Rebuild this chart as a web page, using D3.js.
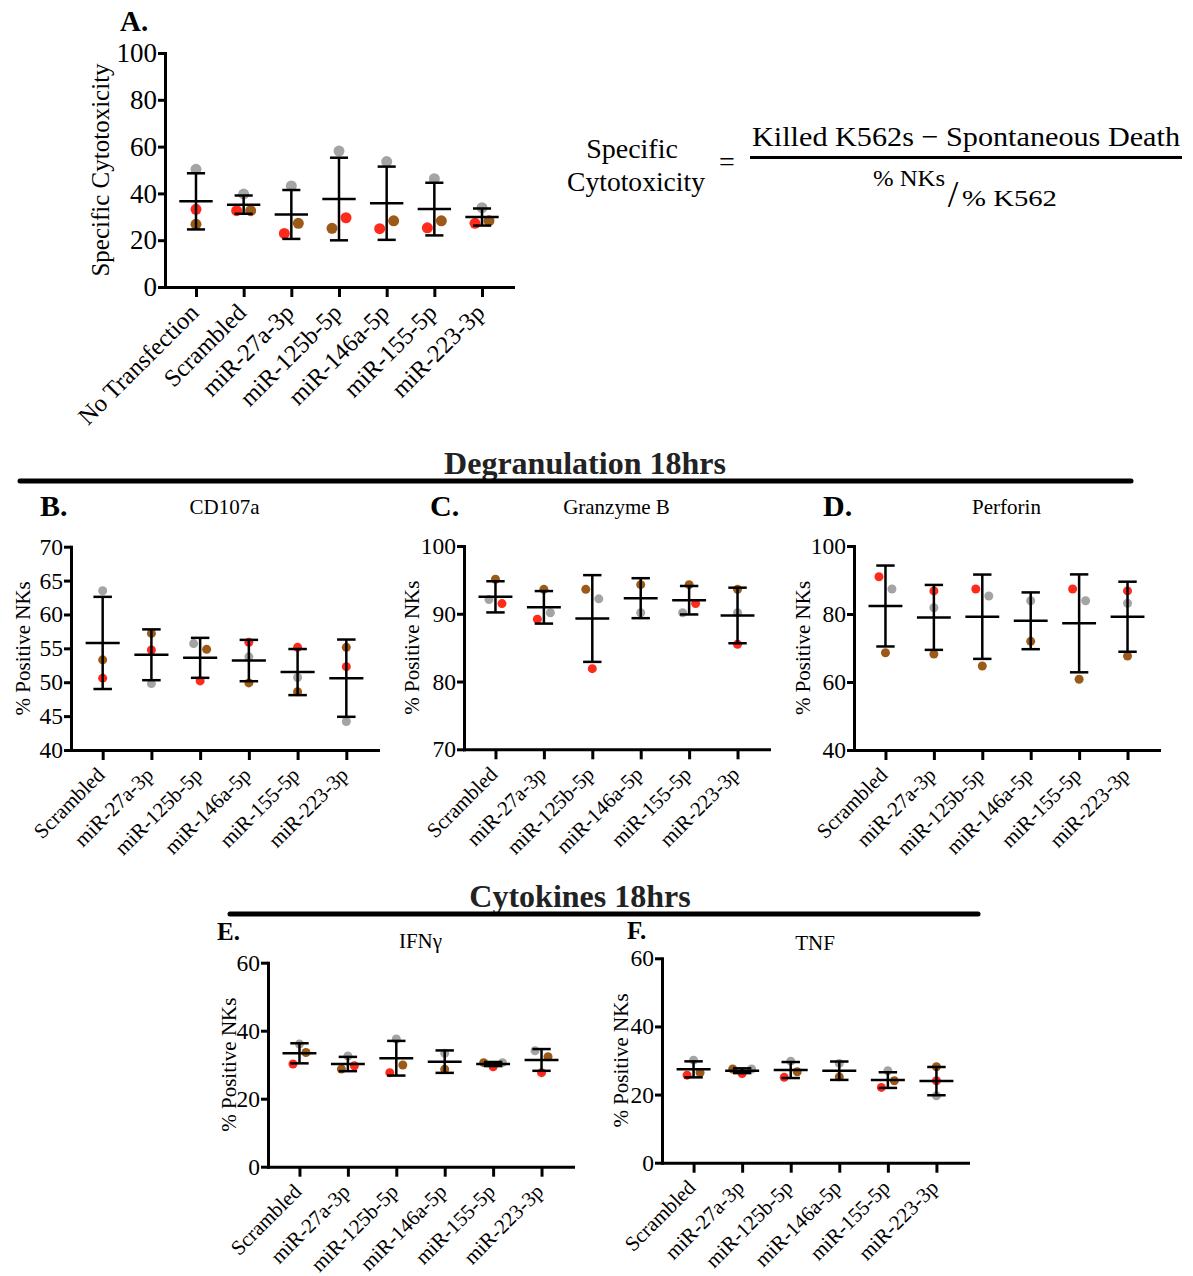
<!DOCTYPE html>
<html>
<head>
<meta charset="utf-8">
<script src="https://cdn.jsdelivr.net/npm/d3@7"></script>
<style>
  body { margin: 0; background: #fff; }
  svg { display: block; font-family: "Liberation Serif", "Times New Roman", serif; }
</style>
</head>
<body>
<svg width="1193" height="1276"></svg>
<script>
let svg = d3.select("svg");

const COL_GRAY = "#a4a4a4";
const COL_RED = "#ff2a1c";
const COL_BROWN = "#9b5a17";

// categories
const groupsA = ["No Transfection", "Scrambled", "miR-27a-3p", "miR-125b-5p", "miR-146a-5p", "miR-155-5p", "miR-223-3p"];
const groupsMir = ["Scrambled", "miR-27a-3p", "miR-125b-5p", "miR-146a-5p", "miR-155-5p", "miR-223-3p"];

// A. specific cytotoxicity (3 donors: gray, red, brown)
const aGray  = [50.3, 39.7, 43.2, 58.1, 53.6, 46.3, 33.9];
const aRed   = [33.2, 32.6, 22.9, 29.6, 24.9, 25.3, 27.2];
const aBrown = [26.8, 32.6, 27.2, 25.1, 28.3, 28.3, 28.3];
const aMean  = [36.6, 35.2, 31.0, 37.6, 35.8, 33.3, 29.9];
const aSD    = [12.0, 3.9, 10.45, 17.65, 15.65, 11.25, 3.65];
const aTicks = [0, 20, 40, 60, 80, 100];
// order of overlapping dots (-1 left, 0 centre, 1 right) : gray, red, brown
const aSlots = [[0,0,0],[0,-1,1],[0,-1,1],[0,1,-1],[0,-1,1],[0,-1,1],[0,-1,1]];

// B. CD107a
const bGray  = [63.5, 49.8, 55.7, 53.75, 50.7, 44.2];
const bRed   = [50.6, 54.75, 50.2, 55.9, 55.15, 52.3];
const bBrown = [53.3, 57.2, 54.85, 49.9, 48.6, 55.15];
const bMean  = [55.8, 54.05, 53.6, 53.2, 51.5, 50.6];
const bSD    = [6.8, 3.75, 2.95, 3.05, 3.4, 5.7];
const bTicks = [40, 45, 50, 55, 60, 65, 70];
const bSlots = [[0,0,0],[0,0,0],[-1,0,1],[0,0,0],[0,0,0],[0,0,0]];

// C. Granzyme B
const cGray  = [92.1, 90.15, 92.2, 90.15, 90.15, 90.15];
const cRed   = [91.5, 89.2, 81.9, null, 91.5, 85.5];
const cBrown = [95.1, 93.6, 93.6, 94.3, 94.3, 93.6];
const cMean  = [92.5, 90.95, 89.3, 92.3, 92.0, 89.75];
const cSD    = [2.3, 2.4, 6.4, 2.95, 2.1, 4.1];
const cTicks = [70, 80, 90, 100];
const cSlots = [[-1,1,0],[1,-1,0],[1,0,-1],[0,0,0],[-1,1,0],[0,0,0]];

// D. Perforin
const dGray  = [87.35, 81.85, 85.3, 83.9, 83.9, 83.15];
const dRed   = [90.97, 86.8, 87.35, null, 87.35, 86.8];
const dBrown = [68.6, 68.2, 64.7, 71.95, 60.8, 67.65];
const dMean  = [82.35, 79.0, 79.2, 78.0, 77.25, 79.2];
const dSD    = [11.9, 9.55, 12.4, 8.35, 14.4, 10.3];
const dTicks = [40, 60, 80, 100];
const dSlots = [[1,-1,0],[0,0,0],[1,-1,0],[0,0,0],[1,-1,0],[0,0,0]];

// E. IFNγ
const eGray  = [36.1, 32.55, 37.55, 33.35, 30.6, 34.1];
const eRed   = [30.2, 29.7, 27.65, null, 29.4, 27.65];
const eBrown = [33.6, 28.7, 29.9, 28.65, 30.6, 32.35];
const eMean  = [33.35, 30.2, 31.9, 30.9, 30.2, 31.4];
const eSD    = [2.95, 2.1, 5.1, 3.3, 0.6, 3.2];
const eTicks = [0, 20, 40, 60];
const eSlots = [[0,-1,1],[0,1,-1],[0,-1,1],[0,0,0],[1,0,-1],[-1,0,1]];

// F. TNF
const fGray  = [30.1, 27.5, 29.8, 29.15, 27.0, 19.65];
const fRed   = [25.7, 26.2, 25.05, null, 22.1, 24.05];
const fBrown = [26.4, 27.5, 26.7, 25.2, 24.05, 28.15];
const fMean  = [27.4, 27.0, 27.2, 27.0, 24.25, 23.95];
const fSD    = [2.35, 0.7, 2.35, 2.7, 2.3, 4.15];
const fTicks = [0, 20, 40, 60];
const fSlots = [[0,-1,1],[1,0,-1],[0,-1,1],[0,0,0],[0,-1,1],[0,0,0]];


function drawPanel(p) {
    let g = svg.append("g");
    let x = d3.scalePoint().domain(p.groups).range([p.x0, p.x1]).padding(0.65);
    let y = d3.scaleLinear().domain(p.domain).range([p.y0, p.y1]);
    let step = x.step();

    // axes
    let ya = g.append("g")
        .attr("transform", `translate(${p.x0},0)`)
        .call(d3.axisLeft(y).tickValues(p.ticks).tickSize(7).tickSizeOuter(0).tickPadding(1));
    let xa = g.append("g")
        .attr("transform", `translate(0,${p.y0})`)
        .call(d3.axisBottom(x).tickSize(10).tickSizeOuter(0).tickFormat(""));
    [ya, xa].forEach(a => {
        a.attr("font-family", null).attr("font-size", null);
        a.select(".domain").attr("stroke-width", 3).attr("stroke-linecap", "square");
        a.selectAll(".tick line").attr("stroke-width", 3);
    });
    ya.selectAll("text")
        .attr("font-size", p.tickFont)
        .attr("fill", "#000");

    // x labels, rotated
    g.selectAll(".xlab")
        .data(p.groups)
        .join("text")
        .attr("class", "xlab")
        .attr("transform", d => `translate(${x(d) - 2},${p.y0 + 21}) rotate(-45)`)
        .attr("text-anchor", "end")
        .attr("dy", "0.35em")
        .attr("font-size", p.xFont)
        .text(d => d);

    // y title
    g.append("text")
        .attr("transform", `translate(${p.ylabX},${(p.y0 + p.y1) / 2}) rotate(-90)`)
        .attr("text-anchor", "middle")
        .attr("dy", "0.35em")
        .attr("font-size", p.ylabFont)
        .text(p.ylab);

    // panel title + letter
    if (p.title) {
        g.append("text")
            .attr("x", (p.x0 + p.x1) / 2)
            .attr("y", p.titleY)
            .attr("text-anchor", "middle")
            .attr("font-size", 21)
            .text(p.title);
    }
    g.append("text")
        .attr("x", p.lx)
        .attr("y", p.ly)
        .attr("font-size", p.letterFont)
        .attr("font-weight", "bold")
        .text(p.letter);

    // dots
    let dots = [];
    p.groups.forEach((grp, i) => {
        let reps = [
            {v: p.gray[i], c: COL_GRAY, s: p.slots[i][0]},
            {v: p.red[i], c: COL_RED, s: p.slots[i][1]},
            {v: p.brown[i], c: COL_BROWN, s: p.slots[i][2]}
        ].filter(d => d.v != null);
        let mid = reps.find(d => d.s === 0);
        let crowded = mid && reps.some(d => d.s !== 0 && Math.abs(y(d.v) - y(mid.v)) < 8);
        let off = crowded ? p.jit * 1.45 : p.jit;
        reps.forEach(d => dots.push({grp: grp, v: d.v, c: d.c, dx: d.s * off}));
    });
    g.selectAll(".dot")
        .data(dots)
        .join("circle")
        .attr("class", "dot")
        .attr("cx", d => x(d.grp) + d.dx)
        .attr("cy", d => y(d.v))
        .attr("r", p.r)
        .attr("fill", d => d.c);

    // mean +/- SD
    let stats = p.groups.map((grp, i) => ({grp: grp, m: p.mean[i], sd: p.sd[i]}));
    let mw = step * 0.35, cw = step * 0.19;
    let eb = g.selectAll(".eb").data(stats).join("g").attr("class", "eb")
        .attr("stroke", "#000").attr("stroke-width", 2.5);
    eb.append("line")
        .attr("x1", d => x(d.grp)).attr("x2", d => x(d.grp))
        .attr("y1", d => y(d.m - d.sd)).attr("y2", d => y(d.m + d.sd));
    eb.append("line")
        .attr("x1", d => x(d.grp) - cw).attr("x2", d => x(d.grp) + cw)
        .attr("y1", d => y(d.m + d.sd)).attr("y2", d => y(d.m + d.sd));
    eb.append("line")
        .attr("x1", d => x(d.grp) - cw).attr("x2", d => x(d.grp) + cw)
        .attr("y1", d => y(d.m - d.sd)).attr("y2", d => y(d.m - d.sd));
    eb.append("line")
        .attr("x1", d => x(d.grp) - mw).attr("x2", d => x(d.grp) + mw)
        .attr("y1", d => y(d.m)).attr("y2", d => y(d.m));
}

const small = {tickFont: 23.5, xFont: 21, ylabFont: 21, ylab: "% Positive NKs", r: 4.5, jit: 6.5, letterFont: 30};

drawPanel({groups: groupsA, gray: aGray, red: aRed, brown: aBrown, mean: aMean, sd: aSD, slots: aSlots,
    domain: [0, 100], ticks: aTicks, x0: 165, x1: 513, y0: 287, y1: 53,
    tickFont: 27, xFont: 24.5, ylabFont: 25, ylab: "Specific Cytotoxicity", ylabX: 100,
    letter: "A.", lx: 120, ly: 31, letterFont: 29, r: 5.5, jit: 7});

drawPanel(Object.assign({}, small, {groups: groupsMir, gray: bGray, red: bRed, brown: bBrown, mean: bMean, sd: bSD, slots: bSlots,
    domain: [40, 70], ticks: bTicks, x0: 71, x1: 378, y0: 750, y1: 546.7, ylabX: 23,
    title: "CD107a", titleY: 514, letter: "B.", lx: 40, ly: 516}));

drawPanel(Object.assign({}, small, {groups: groupsMir, gray: cGray, red: cRed, brown: cBrown, mean: cMean, sd: cSD, slots: cSlots,
    domain: [70, 100], ticks: cTicks, x0: 464, x1: 769, y0: 749.3, y1: 546, ylabX: 412,
    title: "Granzyme B", titleY: 514, letter: "C.", lx: 430, ly: 516}));

drawPanel(Object.assign({}, small, {groups: groupsMir, gray: dGray, red: dRed, brown: dBrown, mean: dMean, sd: dSD, slots: dSlots,
    domain: [40, 100], ticks: dTicks, x0: 854, x1: 1159, y0: 750, y1: 546, ylabX: 803,
    title: "Perforin", titleY: 514, letter: "D.", lx: 823, ly: 516}));

drawPanel(Object.assign({}, small, {groups: groupsMir, gray: eGray, red: eRed, brown: eBrown, mean: eMean, sd: eSD, slots: eSlots,
    domain: [0, 60], ticks: eTicks, x0: 268, x1: 573, y0: 1166.7, y1: 962.7, ylabX: 229,
    title: "IFNγ", titleY: 948, letter: "E.", lx: 217, ly: 940, letterFont: 25}));

drawPanel(Object.assign({}, small, {groups: groupsMir, gray: fGray, red: fRed, brown: fBrown, mean: fMean, sd: fSD, slots: fSlots,
    domain: [0, 60], ticks: fTicks, x0: 662, x1: 968, y0: 1162.7, y1: 958.3, ylabX: 621,
    title: "TNF", titleY: 950, letter: "F.", lx: 627, ly: 939, letterFont: 25}));

// section headings
function section(label, cx, by, lx1, lx2, ly) {
    svg.append("text")
        .attr("x", cx).attr("y", by)
        .attr("text-anchor", "middle")
        .attr("font-size", 32)
        .attr("font-weight", "bold")
        .attr("fill", "#222")
        .text(label);
    svg.append("line")
        .attr("x1", lx1).attr("x2", lx2)
        .attr("y1", ly).attr("y2", ly)
        .attr("stroke", "#000")
        .attr("stroke-width", 5)
        .attr("stroke-linecap", "round");
}
section("Degranulation 18hrs", 585, 474, 20, 1131, 481);
section("Cytokines 18hrs", 580, 907, 230, 978, 914);

// formula for specific cytotoxicity
let fml = svg.append("g").attr("font-size", 28);
fml.append("text").attr("x", 632).attr("y", 158).attr("text-anchor", "middle").text("Specific");
fml.append("text").attr("x", 636).attr("y", 191).attr("text-anchor", "middle")
    .attr("textLength", 138).attr("lengthAdjust", "spacingAndGlyphs").text("Cytotoxicity");
fml.append("text").attr("x", 727).attr("y", 171).attr("text-anchor", "middle").text("=");
fml.append("text").attr("x", 752).attr("y", 146)
    .attr("textLength", 428).attr("lengthAdjust", "spacingAndGlyphs")
    .text("Killed K562s  \u2212 Spontaneous Death");
fml.append("line").attr("x1", 750).attr("x2", 1182).attr("y1", 157.5).attr("y2", 157.5)
    .attr("stroke", "#000").attr("stroke-width", 3);
fml.append("text").attr("x", 873).attr("y", 186).attr("font-size", 24)
    .attr("textLength", 72).attr("lengthAdjust", "spacingAndGlyphs").text("% NKs");
fml.append("text").attr("x", 953).attr("y", 207).attr("font-size", 38).attr("text-anchor", "middle").text("/");
fml.append("text").attr("x", 962).attr("y", 206).attr("font-size", 24)
    .attr("textLength", 95).attr("lengthAdjust", "spacingAndGlyphs").text("% K562");
</script>
</body>
</html>
